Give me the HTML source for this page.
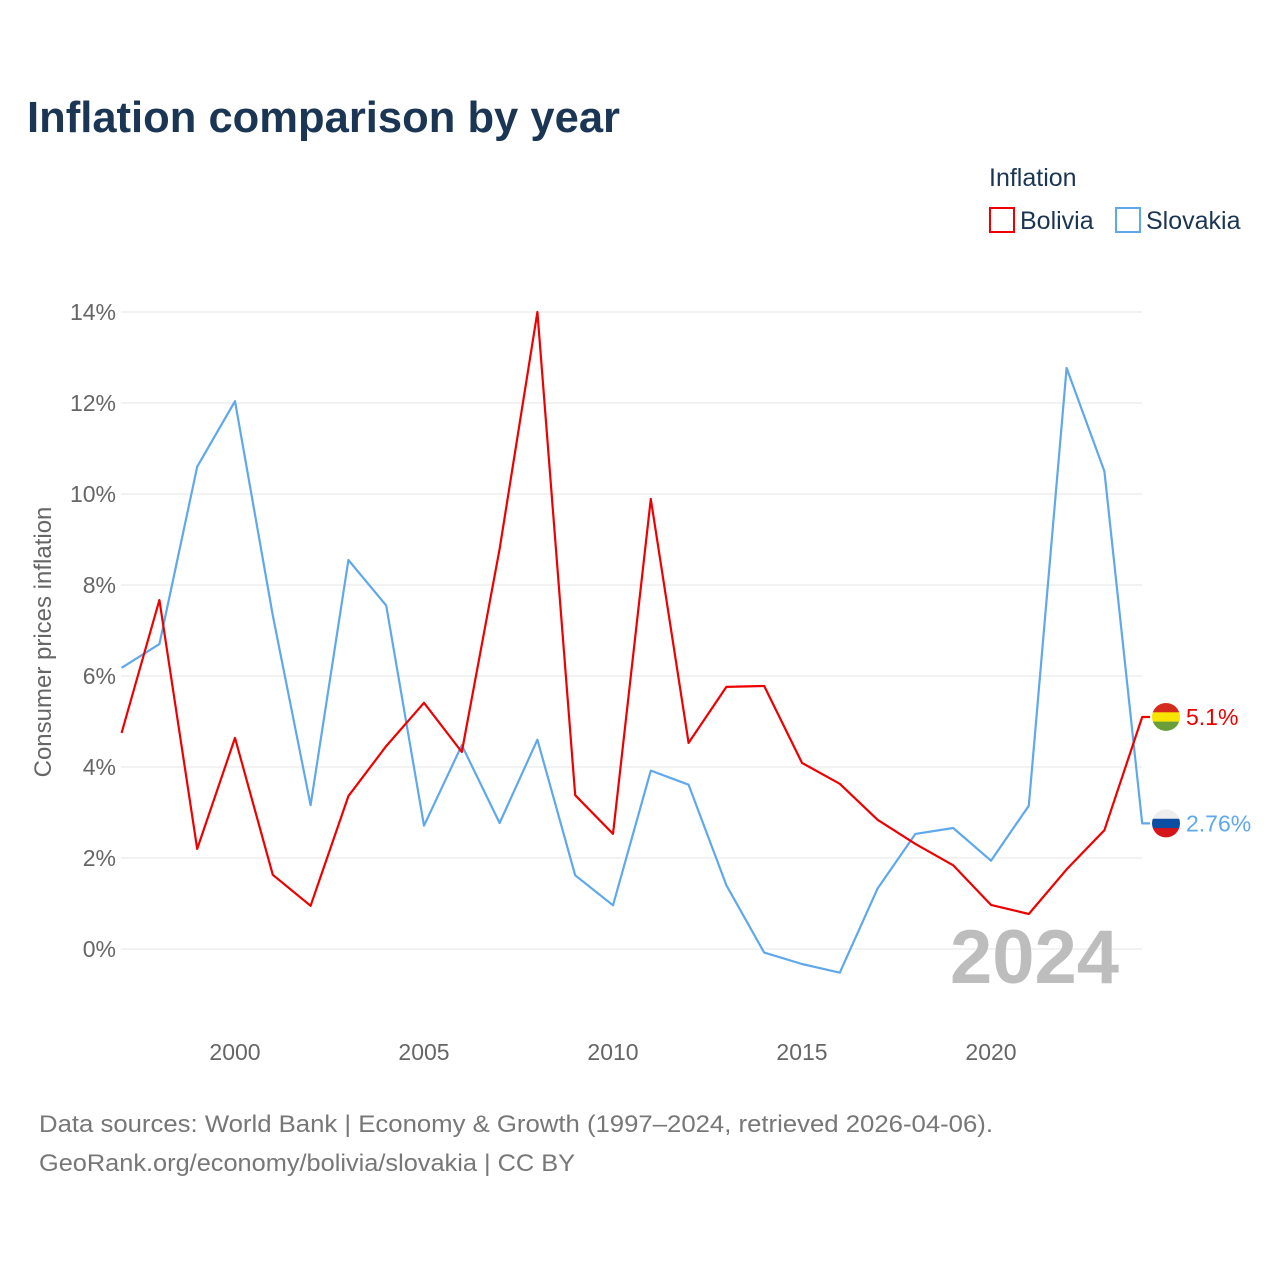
<!DOCTYPE html>
<html><head><meta charset="utf-8"><style>
body{margin:0;background:#fff;font-family:"Liberation Sans",sans-serif;}
</style></head><body>
<svg id="chart" width="1280" height="1280" xmlns="http://www.w3.org/2000/svg">
<rect width="1280" height="1280" fill="#fff"/>
<text x="27" y="132" font-size="44" font-weight="bold" fill="#1b3554" textLength="593" lengthAdjust="spacingAndGlyphs">Inflation comparison by year</text>
<text x="989" y="186" font-size="25" fill="#1b3554">Inflation</text>
<g><rect x="990" y="208" width="24" height="24" fill="none" stroke="#ee0000" stroke-width="2"/><text x="1020" y="229" font-size="25" fill="#1b3554">Bolivia</text></g>
<g><rect x="1116" y="208" width="24" height="24" fill="none" stroke="#5fa8ec" stroke-width="2"/><text x="1146" y="229" font-size="25" fill="#1b3554">Slovakia</text></g>
<g id="grid"></g>
<text x="950" y="983" font-size="76" font-weight="bold" fill="#bdbdbd">2024</text>
<g id="series"></g>
<text transform="translate(51,642) rotate(-90)" text-anchor="middle" font-size="24" fill="#666">Consumer prices inflation</text>
<text x="39" y="1132" font-size="24" fill="#777" textLength="954" lengthAdjust="spacingAndGlyphs">Data sources: World Bank | Economy &amp; Growth (1997–2024, retrieved 2026-04-06).</text>
<text x="39" y="1171" font-size="24" fill="#777" textLength="536" lengthAdjust="spacingAndGlyphs">GeoRank.org/economy/bolivia/slovakia | CC BY</text>
</svg>
<script>
const years=[1997,1998,1999,2000,2001,2002,2003,2004,2005,2006,2007,2008,2009,2010,2011,2012,2013,2014,2015,2016,2017,2018,2019,2020,2021,2022,2023,2024];
const bolivia=[4.75,7.67,2.2,4.64,1.63,0.95,3.36,4.46,5.41,4.33,8.79,14.0,3.38,2.53,9.89,4.53,5.76,5.78,4.09,3.63,2.84,2.31,1.84,0.97,0.77,1.75,2.61,5.1];
const slovakia=[6.18,6.7,10.6,12.04,7.33,3.16,8.55,7.55,2.71,4.48,2.77,4.6,1.62,0.96,3.92,3.61,1.4,-0.08,-0.33,-0.52,1.33,2.53,2.66,1.94,3.15,12.77,10.5,2.76];
const yTicks=[0,2,4,6,8,10,12,14];
const xTicks=[2000,2005,2010,2015,2020];
const NS="http://www.w3.org/2000/svg";
const X=y=>121.6+(y-1997)*37.8;
const Y=v=>949-v*45.5;
function mk(t,a,p){const e=document.createElementNS(NS,t);for(const k in a)e.setAttribute(k,a[k]);p.appendChild(e);return e;}
const grid=document.getElementById('grid'),ser=document.getElementById('series');
yTicks.forEach(v=>{
 const l=mk('line',{x1:121,x2:1142,y1:Y(v),y2:Y(v),stroke:'#e6e6e6','stroke-width':1},grid);
 
 
 const t=mk('text',{x:116,y:Y(v)+8,'text-anchor':'end','font-size':23,fill:'#666'},grid);
 t.textContent=v+'%';
 
 
});
xTicks.forEach(y=>{
 const t=mk('text',{x:X(y),y:1060,'text-anchor':'middle','font-size':23,fill:'#666'},grid);
 t.textContent=y;
 
 
});
function line(vals,color,name,label,flag){
 const d=vals.map((v,i)=>(i?'L':'M')+X(years[i]).toFixed(1)+','+Y(v).toFixed(1)).join(' ')+' L1150,'+Y(vals[vals.length-1]).toFixed(1);
 const p=mk('path',{d:d,fill:'none',stroke:color,'stroke-width':2.2,'stroke-linejoin':'round'},ser);
 
 
 const yy=Y(vals[vals.length-1]);
 const g=mk('g',{},ser);
 
 
 const cp=mk('clipPath',{id:'c'+name},g);mk('circle',{cx:1166,cy:yy,r:14},cp);
 flag.forEach((c,i)=>mk('rect',{x:1152,y:yy-14+i*28/flag.length,width:28,height:28/flag.length+0.5,fill:c,'clip-path':'url(#c'+name+')'},g));
 const t=mk('text',{x:1186,y:yy+8,'font-size':23,fill:color},ser);
 t.textContent=label;
 
 
}
line(slovakia,'#5fa8ec','slovakia',slovakia[slovakia.length-1]+'%',['#eeeeee','#0b4ea2','#d7141a']);
line(bolivia,'#ee0000','bolivia',bolivia[bolivia.length-1]+'%',['#d52b1e','#f9e300','#6a9e3a']);
</script>
</body></html>
